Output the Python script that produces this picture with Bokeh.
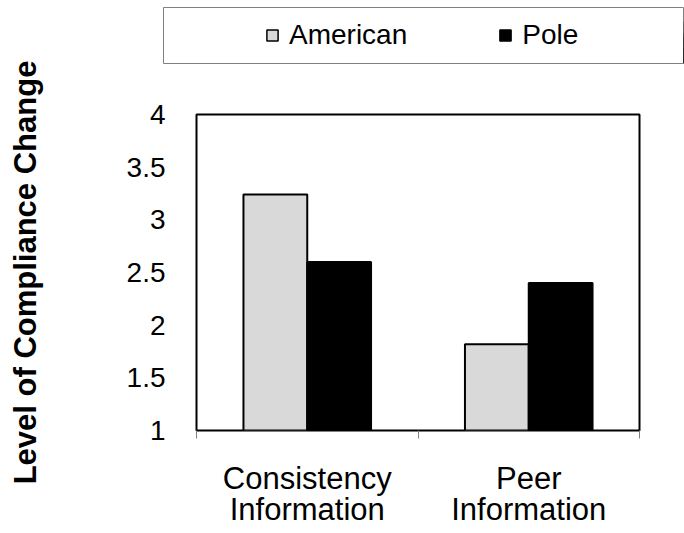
import numpy as np
from bokeh.plotting import figure
from bokeh.models import Range1d, FixedTicker, Legend, LegendItem, ColumnDataSource
from bokeh.embed import file_html
from bokeh.resources import INLINE

# ---- data ----
categories = ["Consistency\nInformation", "Peer\nInformation"]
american = [3.24, 1.82]
pole = [2.60, 2.40]
series_names = ["American", "Pole"]
y_ticks = [1, 1.5, 2, 2.5, 3, 3.5, 4]
y_tick_labels = ["1", "1.5", "2", "2.5", "3", "3.5", "4"]
y_label = "Level of Compliance Change"

FONT = "Liberation Sans"
W, H = 684, 530
n = len(categories)
centers = np.arange(n) + 0.5
bar_w = 0.288
off = 0.144
colors = ["#d9d9d9", "black"]

src_a = ColumnDataSource(dict(x=centers - off, top=american))
src_p = ColumnDataSource(dict(x=centers + off, top=pole))

# ---------------- main chart ----------------
p = figure(width=W, height=H, output_backend="svg", toolbar_location=None,
           x_range=Range1d(0, n), y_range=Range1d(y_ticks[0], y_ticks[-1]),
           min_border_left=196, min_border_right=45, min_border_top=114,
           min_border_bottom=100)
p.background_fill_color = "white"
p.border_fill_color = "white"
p.outline_line_color = "black"
p.outline_line_width = 2
p.xgrid.visible = False
p.ygrid.visible = False

p.vbar(x="x", top="top", bottom=y_ticks[0], width=bar_w, source=src_a,
       fill_color=colors[0], line_color="black", line_width=2)
p.vbar(x="x", top="top", bottom=y_ticks[0], width=bar_w, source=src_p,
       fill_color=colors[1], line_color="black", line_width=2)

xa = p.xaxis[0]
xa.ticker = FixedTicker(ticks=list(centers), minor_ticks=list(np.arange(n + 1)))
xa.major_label_overrides = {float(c): lab for c, lab in zip(centers, categories)}
xa.axis_line_color = None
xa.major_tick_line_color = None
xa.major_tick_out = 0
xa.major_tick_in = 0
xa.minor_tick_line_color = "#808080"
xa.minor_tick_out = 8
xa.minor_tick_in = 0
xa.major_label_text_font = FONT
xa.major_label_text_font_size = "31px"
xa.major_label_text_color = "black"
xa.major_label_standoff = 22
xa.major_label_text_line_height = 0.9

ya = p.yaxis[0]
ya.ticker = FixedTicker(ticks=y_ticks)
ya.major_label_overrides = {float(t): l for t, l in zip(y_ticks, y_tick_labels)}
ya.axis_line_color = None
ya.major_tick_line_color = None
ya.major_tick_out = 0
ya.major_tick_in = 0
ya.minor_tick_line_color = None
ya.major_label_text_font = FONT
ya.major_label_text_font_size = "28px"
ya.major_label_text_color = "black"
ya.major_label_standoff = 31
ya.axis_label = y_label
ya.axis_label_text_font = FONT
ya.axis_label_text_font_size = "31px"
ya.axis_label_text_font_style = "bold"
ya.axis_label_text_color = "black"
ya.axis_label_standoff = 81

# ---------------- legend box (overlay strip) ----------------
# the strip's x range lies away from the bars, so only the legend swatches show
box = figure(width=W, height=70, output_backend="svg", toolbar_location=None,
             x_range=Range1d(-20, -19), y_range=Range1d(y_ticks[0], y_ticks[-1]),
             x_axis_type=None, y_axis_type=None,
             min_border_left=163, min_border_right=0, min_border_top=7,
             min_border_bottom=7,
             styles={"position": "absolute", "left": "0px", "top": "0px"})
box.background_fill_alpha = 0
box.border_fill_alpha = 0
box.outline_line_color = "#808080"
box.outline_line_width = 1
box.xgrid.visible = False
box.ygrid.visible = False

la = box.vbar(x="x", top="top", bottom=y_ticks[0], width=bar_w, source=src_a,
              fill_color=colors[0], line_color="black", line_width=1.5)
lp = box.vbar(x="x", top="top", bottom=y_ticks[0], width=bar_w, source=src_p,
              fill_color=colors[1], line_color="black", line_width=1.5)
legend = Legend(items=[LegendItem(label=series_names[0], renderers=[la]),
                       LegendItem(label=series_names[1], renderers=[lp])],
                orientation="horizontal", location=(102, 12),
                padding=12, spacing=91, glyph_width=14, glyph_height=14,
                label_standoff=10, label_text_font=FONT,
                label_text_font_size="28px", label_text_color="black",
                border_line_color=None, background_fill_alpha=0, margin=0)
box.add_layout(legend, "center")

open("out.html", "w").write(file_html([p, box], INLINE))
